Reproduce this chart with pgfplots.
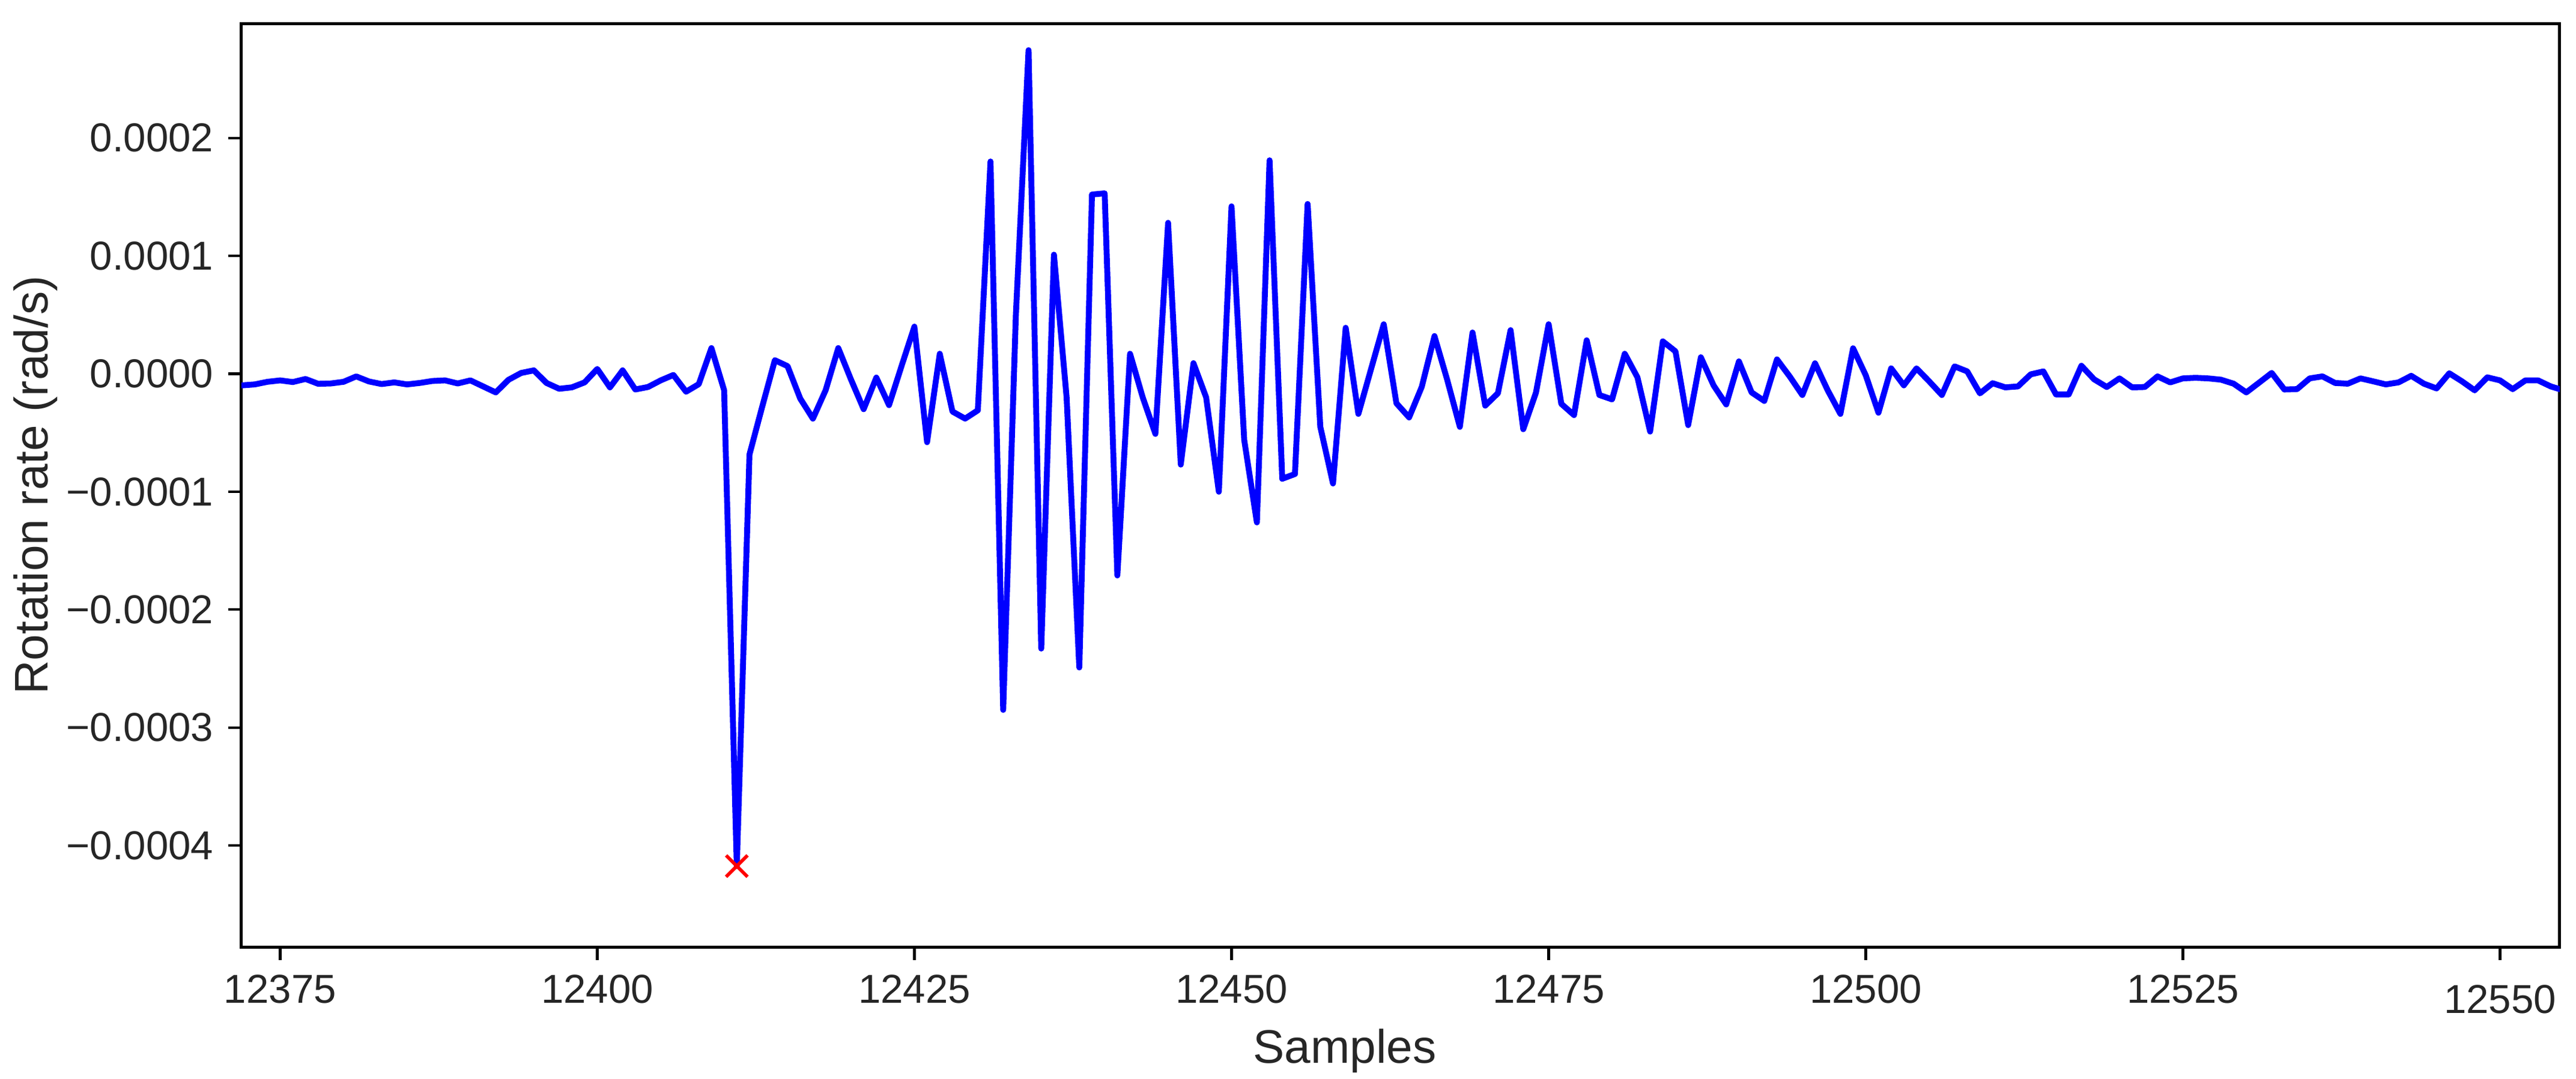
\documentclass[border=0pt]{standalone}
\usepackage{fontspec}
\setmainfont{Liberation Sans}
\usepackage{pgfplots}
\pgfplotsset{compat=1.18}
\usepackage{pgfplotstable}
\definecolor{txt}{HTML}{262626}
\definecolor{pureblue}{HTML}{0000FF}
\definecolor{purered}{HTML}{FF0000}

\pgfplotstableread{
s v
12371 -0.100e-4
12372 -0.098e-4
12373 -0.090e-4
12374 -0.068e-4
12375 -0.056e-4
12376 -0.070e-4
12377 -0.044e-4
12378 -0.085e-4
12379 -0.082e-4
12380 -0.068e-4
12381 -0.022e-4
12382 -0.065e-4
12383 -0.087e-4
12384 -0.073e-4
12385 -0.090e-4
12386 -0.078e-4
12387 -0.061e-4
12388 -0.056e-4
12389 -0.082e-4
12390 -0.056e-4
12391 -0.107e-4
12392 -0.158e-4
12393 -0.051e-4
12394 0.007e-4
12395 0.029e-4
12396 -0.078e-4
12397 -0.127e-4
12398 -0.115e-4
12399 -0.073e-4
12400 0.041e-4
12401 -0.115e-4
12402 0.029e-4
12403 -0.133e-4
12404 -0.112e-4
12405 -0.056e-4
12406 -0.010e-4
12407 -0.152e-4
12408 -0.088e-4
12409 0.218e-4
12410 -0.139e-4
12411 -4.174e-4
12412 -0.684e-4
12413 -0.280e-4
12414 0.115e-4
12415 0.065e-4
12416 -0.210e-4
12417 -0.380e-4
12418 -0.140e-4
12419 0.218e-4
12420 -0.048e-4
12421 -0.300e-4
12422 -0.032e-4
12423 -0.266e-4
12424 0.070e-4
12425 0.400e-4
12426 -0.580e-4
12427 0.170e-4
12428 -0.320e-4
12429 -0.380e-4
12430 -0.310e-4
12431 1.800e-4
12432 -2.850e-4
12433 0.500e-4
12434 2.744e-4
12435 -2.330e-4
12436 1.010e-4
12437 -0.200e-4
12438 -2.490e-4
12439 1.520e-4
12440 1.530e-4
12441 -1.710e-4
12442 0.170e-4
12443 -0.200e-4
12444 -0.510e-4
12445 1.280e-4
12446 -0.770e-4
12447 0.090e-4
12448 -0.200e-4
12449 -1.000e-4
12450 1.420e-4
12451 -0.560e-4
12452 -1.260e-4
12453 1.810e-4
12454 -0.890e-4
12455 -0.850e-4
12456 1.440e-4
12457 -0.450e-4
12458 -0.930e-4
12459 0.390e-4
12460 -0.340e-4
12461 0.040e-4
12462 0.420e-4
12463 -0.250e-4
12464 -0.370e-4
12465 -0.110e-4
12466 0.320e-4
12467 -0.050e-4
12468 -0.450e-4
12469 0.350e-4
12470 -0.270e-4
12471 -0.165e-4
12472 0.370e-4
12473 -0.470e-4
12474 -0.160e-4
12475 0.420e-4
12476 -0.255e-4
12477 -0.350e-4
12478 0.284e-4
12479 -0.180e-4
12480 -0.217e-4
12481 0.170e-4
12482 -0.030e-4
12483 -0.490e-4
12484 0.275e-4
12485 0.190e-4
12486 -0.435e-4
12487 0.140e-4
12488 -0.098e-4
12489 -0.260e-4
12490 0.105e-4
12491 -0.158e-4
12492 -0.230e-4
12493 0.122e-4
12494 -0.022e-4
12495 -0.180e-4
12496 0.089e-4
12497 -0.140e-4
12498 -0.340e-4
12499 0.216e-4
12500 -0.013e-4
12501 -0.330e-4
12502 0.046e-4
12503 -0.098e-4
12504 0.046e-4
12505 -0.064e-4
12506 -0.180e-4
12507 0.063e-4
12508 0.020e-4
12509 -0.166e-4
12510 -0.080e-4
12511 -0.115e-4
12512 -0.107e-4
12513 -0.005e-4
12514 0.020e-4
12515 -0.175e-4
12516 -0.175e-4
12517 0.068e-4
12518 -0.047e-4
12519 -0.112e-4
12520 -0.039e-4
12521 -0.115e-4
12522 -0.112e-4
12523 -0.022e-4
12524 -0.073e-4
12525 -0.039e-4
12526 -0.034e-4
12527 -0.039e-4
12528 -0.050e-4
12529 -0.084e-4
12530 -0.158e-4
12531 -0.076e-4
12532 0.007e-4
12533 -0.133e-4
12534 -0.130e-4
12535 -0.039e-4
12536 -0.022e-4
12537 -0.078e-4
12538 -0.084e-4
12539 -0.039e-4
12540 -0.064e-4
12541 -0.090e-4
12542 -0.073e-4
12543 -0.017e-4
12544 -0.084e-4
12545 -0.124e-4
12546 0.004e-4
12547 -0.064e-4
12548 -0.140e-4
12549 -0.030e-4
12550 -0.056e-4
12551 -0.130e-4
12552 -0.056e-4
12553 -0.056e-4
12554 -0.107e-4
12555 -0.140e-4
}\data

\begin{document}
\begin{tikzpicture}
\useasboundingbox (0,0) rectangle (612.7pt,256.6pt);
\begin{axis}[
  at={(57.4pt,31.3pt)}, anchor=south west,
  scale only axis, width=551.4pt, height=219.7pt,
  xmin=12371.94, xmax=12554.7, ymin=-0.000486, ymax=0.000297,
  xtick={12375,12400,12425,12450,12475,12500,12525},
  xticklabels={12375,12400,12425,12450,12475,12500,12525},
  extra x ticks={12550}, extra x tick labels={12550},
  extra x tick style={xticklabel style={yshift=-2.4pt}},
  ytick={-0.0004,-0.0003,-0.0002,-0.0001,0,0.0001,0.0002},
  yticklabels={−0.0004,−0.0003,−0.0002,−0.0001,0.0000,0.0001,0.0002},
  scaled y ticks=false, scaled x ticks=false,
  tick align=outside, xtick pos=left, ytick pos=left,
  major tick length=3.1pt,
  tick style={black, line width=0.6pt},
  axis line style={black, line width=0.7pt},
  tick label style={font=\fontsize{9.6}{11}\selectfont, text=txt},
  label style={font=\fontsize{11.2}{13}\selectfont, text=txt},
  xlabel={Samples}, ylabel={Rotation rate (rad/s)},
  xlabel style={at={(axis description cs:0.476,-0.1255)}, anchor=base},
  ylabel style={at={(axis description cs:-0.0834,0.5)}, anchor=base},
]
\addplot[pureblue, line width=1.4pt, line join=round] table[x=s,y=v]{\data};
\addplot[only marks, mark=x, mark size=3.6pt, purered, mark options={line width=0.8pt}] coordinates {(12411,-0.0004174)};
\end{axis}
\end{tikzpicture}
\end{document}
